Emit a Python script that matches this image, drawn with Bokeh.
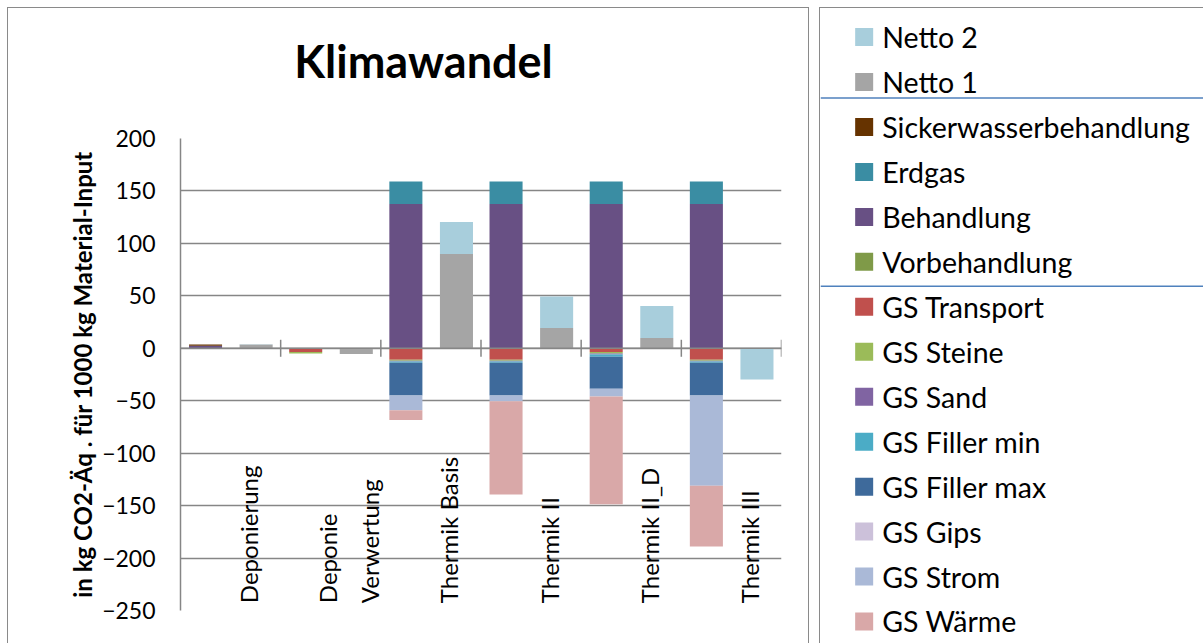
import numpy as np
from bokeh.plotting import figure
from bokeh.models import Range1d, FixedTicker, Span
from bokeh.core.properties import value
from bokeh.embed import file_html
from bokeh.resources import INLINE

title = "Klimawandel"
categories = ["Deponierung", "Deponie\nVerwertung", "Thermik Basis",
              "Thermik II", "Thermik II_D", "Thermik III"]

# Beitraege in kg CO2-Aeq. fuer 1000 kg Material-Input
vorbehandlung = [0, 0, 0, 0, 0, 0]
behandlung = [2.5, 0, 137.6, 137.6, 137.6, 137.6]
erdgas = [0, 0, 21.4, 21.4, 21.4, 21.4]
sickerwasser = [1.0, 0, 0, 0, 0, 0]
gs_transport = [0, -3.5, -11.0, -11.0, -3.5, -11.0]
gs_steine = [0, -1.5, -1.0, -1.0, -1.5, -1.0]
gs_sand = [0, 0, -0.5, -0.5, -1.0, -0.5]
gs_filler_min = [0, 0, -1.2, -1.2, -2.0, -1.2]
gs_filler_max = [0, 0, -31.3, -31.3, -30.6, -31.3]
gs_gips = [0, 0, 0, 0, 0, 0]
gs_strom = [0, 0, -14.0, -5.4, -7.4, -86.0]
gs_waerme = [0, 0, -9.4, -89.0, -102.6, -58.0]

netto1 = [3.5, -5.5, 90.0, 19.3, 9.8, 0.0]
netto2 = [0.4, 0, 30.3, 30.1, 30.4, -29.8]

colors = {
    "Netto 2": "#A8CEDC",
    "Netto 1": "#A5A5A5",
    "Sickerwasserbehandlung": "#663300",
    "Erdgas": "#3A8DA3",
    "Behandlung": "#685084",
    "Vorbehandlung": "#7F9A48",
    "GS Transport": "#C0504D",
    "GS Steine": "#9BBB59",
    "GS Sand": "#8064A2",
    "GS Filler min": "#4BACC6",
    "GS Filler max": "#3E6A9B",
    "GS Gips": "#CCC1DA",
    "GS Strom": "#AAB9D7",
    "GS Wärme": "#D9A8A8",
}

stack_main = [("Vorbehandlung", vorbehandlung), ("Behandlung", behandlung),
              ("Erdgas", erdgas), ("Sickerwasserbehandlung", sickerwasser),
              ("GS Transport", gs_transport), ("GS Steine", gs_steine),
              ("GS Sand", gs_sand), ("GS Filler min", gs_filler_min),
              ("GS Filler max", gs_filler_max), ("GS Gips", gs_gips),
              ("GS Strom", gs_strom), ("GS Wärme", gs_waerme)]
stack_net = [("Netto 1", netto1), ("Netto 2", netto2)]

legend_order = ["Netto 2", "Netto 1", "Sickerwasserbehandlung", "Erdgas",
                "Behandlung", "Vorbehandlung", "GS Transport", "GS Steine",
                "GS Sand", "GS Filler min", "GS Filler max", "GS Gips",
                "GS Strom", "GS Wärme"]

FONT = value("Lato")
GREY = "#868686"
BOX = "1.5px solid #8a8a8a"
n = len(categories)
idx = np.arange(n)


def stacked(series):
    # positive and negative parts stack separately, like Excel
    pos = np.zeros(n)
    neg = np.zeros(n)
    out = []
    for name, vals in series:
        v = np.array(vals, dtype=float)
        bottom = np.where(v >= 0, pos, neg)
        top = bottom + v
        pos = np.where(v >= 0, top, pos)
        neg = np.where(v < 0, top, neg)
        out.append((name, bottom, top))
    return out


p = figure(width=802, height=636, x_range=Range1d(0, n), y_range=Range1d(-250, 200),
           toolbar_location=None, output_backend="svg", x_axis_location=None,
           min_border_left=172, min_border_right=29, min_border_top=130,
           min_border_bottom=34, outline_line_color=None,
           styles={"position": "absolute", "left": "7px", "top": "7px",
                   "border-left": BOX, "border-top": BOX, "border-right": BOX,
                   "box-sizing": "border-box"})

p.yaxis.ticker = FixedTicker(ticks=list(range(-250, 201, 50)))
p.yaxis.major_tick_out = 0
p.yaxis.major_tick_in = 0
p.yaxis.minor_tick_out = 0
p.yaxis.minor_tick_in = 0
p.yaxis.axis_line_color = GREY
p.yaxis.axis_line_width = 1.5
p.yaxis.major_label_text_font = "Lato"
p.yaxis.major_label_text_font_size = "23px"
p.yaxis.major_label_text_color = "black"
p.yaxis.major_label_standoff = 25
p.yaxis.axis_label = "in kg CO2-Äq . für 1000 kg Material-Input"
p.yaxis.axis_label_text_font = "Lato"
p.yaxis.axis_label_text_font_size = "24px"
p.yaxis.axis_label_text_font_style = "bold"
p.yaxis.axis_label_text_color = "black"
p.yaxis.axis_label_standoff = 2
p.ygrid.grid_line_color = GREY
p.ygrid.grid_line_width = 1.5
p.xgrid.visible = False

for name, bottom, top in stacked(stack_main):
    p.vbar(x=idx + 0.25, width=0.33, bottom=bottom, top=top,
           fill_color=colors[name], line_color=None)
for name, bottom, top in stacked(stack_net):
    p.vbar(x=idx + 0.755, width=0.33, bottom=bottom, top=top,
           fill_color=colors[name], line_color=None)

# category axis through zero with ticks between the groups
p.add_layout(Span(location=0, dimension="width", line_color=GREY, line_width=1.5))
p.scatter(x=idx + 1, y=0, marker="dash", angle=np.pi / 2, size=17,
          line_color=GREY, line_width=1.5)

p.text(x=idx + 0.68, y=-243, text=categories, angle=np.pi / 2,
       text_align="left", text_baseline="middle", text_font=FONT,
       text_font_size="24px", text_line_height=1.45, text_color="black")

# title sits on its own transparent canvas over the chart box
t = figure(width=400, height=70, x_range=Range1d(0, 1), y_range=Range1d(0, 1),
           toolbar_location=None, output_backend="svg",
           x_axis_location=None, y_axis_location=None, min_border=0,
           outline_line_color=None, background_fill_alpha=0, border_fill_alpha=0,
           styles={"position": "absolute", "left": "223px", "top": "25px"})
t.grid.visible = False
t.text(x=[0.5], y=[0.5], text=[title], text_align="center", text_baseline="middle",
       text_font=FONT, text_font_size="45px", text_font_style="bold",
       text_color="black")

# legend panel
rows = -np.arange(len(legend_order))
leg = figure(width=384, height=636, x_range=Range1d(0, 382.5),
             y_range=Range1d(-(634.5 - 28.5) / 44.85, 28.5 / 44.85),
             toolbar_location=None, output_backend="svg",
             x_axis_location=None, y_axis_location=None, min_border=0,
             outline_line_color=None,
             styles={"position": "absolute", "left": "819px", "top": "7px",
                     "border-left": BOX, "border-top": BOX,
                     "box-sizing": "border-box"})
leg.grid.visible = False
leg.scatter(x=43.5, y=rows, marker="square", size=18,
            fill_color=[colors[k] for k in legend_order], line_color=None)
leg.text(x=61.5, y=rows, text=legend_order, text_font=FONT, text_font_size="28.5px",
         text_baseline="middle", text_color="black")
for loc in (-1.353, -5.545):
    leg.add_layout(Span(location=loc, dimension="width",
                        line_color="#4F81BD", line_width=1.5))

open("out.html", "w").write(file_html([p, t, leg], INLINE))
